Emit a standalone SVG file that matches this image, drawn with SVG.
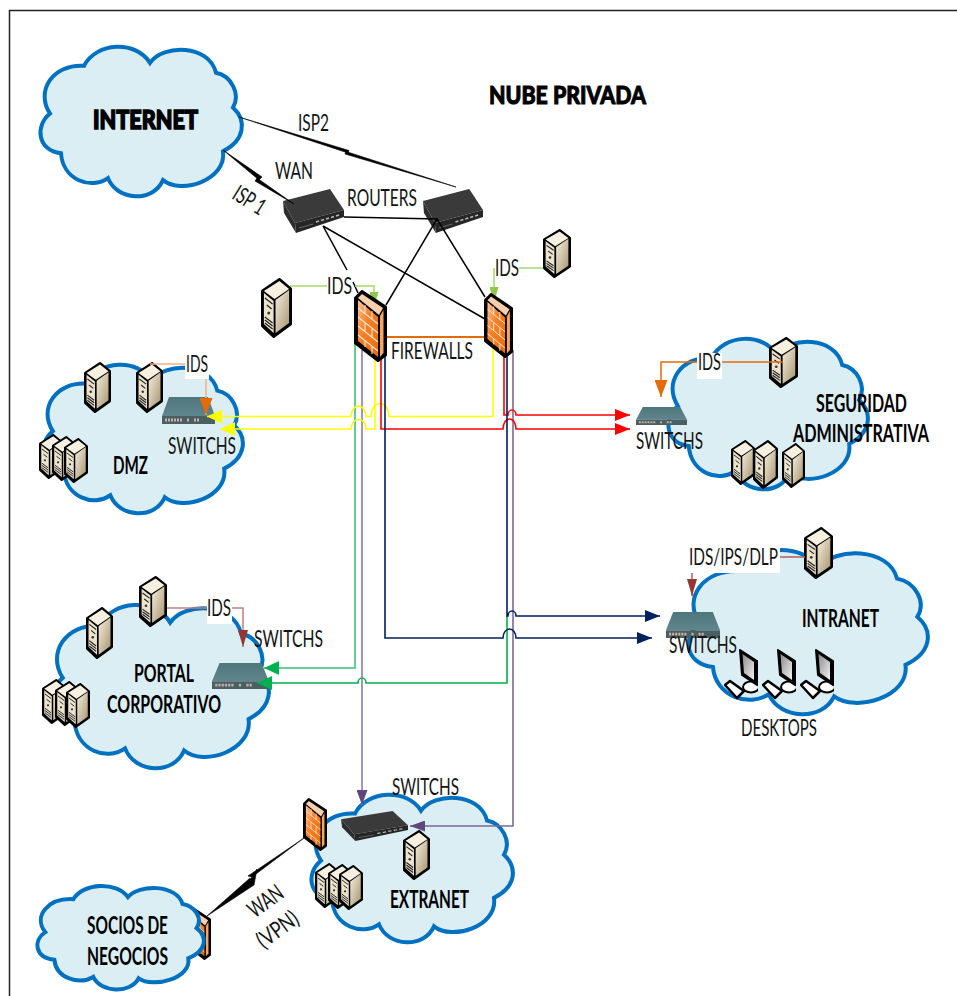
<svg xmlns="http://www.w3.org/2000/svg" width="957" height="996" viewBox="0 0 957 996">
<style>
text{font-family:Lato,"Liberation Sans",sans-serif;font-size:23px;fill:#141414}
.b{font-weight:700;font-size:24px;fill:#000}
.h{font-weight:900;fill:#000;stroke:#000;stroke-width:1}
.c{fill:#daeef3;stroke:#0070c0;stroke-width:4;vector-effect:non-scaling-stroke}
.w{fill:#fff}
.l{fill:none;stroke-width:1.6;stroke-linejoin:miter}
.k{fill:none;stroke:#000;stroke-width:1.5}
.z{fill:#000;stroke:#000;stroke-width:.6}
</style>
<defs>
<linearGradient id="gs" x1="0" x2="1" y1="0" y2="1"><stop offset="0" stop-color="#f5efdf"/><stop offset="1" stop-color="#a8946f"/></linearGradient>
<linearGradient id="gf" x1="0" x2="1" y1="0" y2="1"><stop offset="0" stop-color="#fbc49a"/><stop offset=".4" stop-color="#f58228"/><stop offset="1" stop-color="#e66c0a"/></linearGradient>
<linearGradient id="gt" x1="0" x2="0" y1="0" y2="1"><stop offset="0" stop-color="#4e767c"/><stop offset="1" stop-color="#5f868c"/></linearGradient>
<linearGradient id="gm" x1="0" x2="1" y1="0" y2="1"><stop offset="0" stop-color="#8c8c8c"/><stop offset="1" stop-color="#f2f2f2"/></linearGradient>
<symbol id="cloud" viewBox="-1 -2 202 154" preserveAspectRatio="none" overflow="visible">
<path class="c" d="M43 20C55-4 95-6 109 17C122-2 168-2 175 27C190 30 200 48 192 62C206 75 204 95 182 106C186 135 140 150 122 135C112 158 76 156 67 133C50 145 22 135 20 108C-4 105-6 80 9 68C-6 45 12 18 43 20Z"/>
</symbol>
<symbol id="server" viewBox="0 0 32 60" preserveAspectRatio="none">
<polygon points="1.500,13 19,1.500 30.500,11 30.500,46 13,58.500 1.500,48" fill="#000" stroke="#000" stroke-width="3" stroke-linejoin="round"/>
<polygon points="3,13 19,3 29,11 14,21" fill="#f6f0e1"/>
<polygon points="3,15 13,23 13,55 3,46" fill="#ece3cd"/>
<polygon points="15,22 29,12 29,45 15,55" fill="url(#gs)"/>
<path d="M4 20l8 6M6 27l5 4M4 39l8 6M4 42l8 6M4 45l8 6" stroke="#222" stroke-width="1.300" fill="none"/>
<circle cx="8" cy="35" r="1.500" fill="#333"/>
</symbol>
<symbol id="router" viewBox="0 0 61 44" preserveAspectRatio="none">
<polygon points="0,12 47,0 61,21 12,34" fill="#3a3a3a"/>
<polygon points="12,34 61,21 61,28 13,44" fill="#262626"/>
<polygon points="0,12 12,34 13,44 1,24" fill="#2e2e2e"/>
<path d="M33 33l3-1M38 31.500l3-1M43 30l3-1M48 28.500l3-1M53 27l3-1" stroke="#b5b5b5" stroke-width="1.800"/>
<path d="M16 39l14-4" stroke="#666" stroke-width="1"/>
</symbol>
<symbol id="switch" viewBox="0 0 53 27" preserveAspectRatio="none">
<polygon points="7,0 46,0 53,19 0,19" fill="url(#gt)"/>
<rect x="0" y="19" width="53" height="8" fill="#4a5f63"/>
<path d="M3 23h18M25 23h3M32 23h6" stroke="#c8b0a0" stroke-width="3" stroke-dasharray="2 1"/>
</symbol>
<symbol id="firewall" viewBox="0 0 33 72" preserveAspectRatio="none">
<polygon points="1.500,8 8,1.500 31.500,17 31.500,65 24,70.500 1.500,53" fill="#000" stroke="#000" stroke-width="3" stroke-linejoin="round"/>
<polygon points="4,10 24,27 24,67 4,51" fill="url(#gf)"/>
<polygon points="4,8 8,4 29,18 25,25" fill="#f9cfae"/>
<polygon points="26,26 29.500,20 29.500,63 26,67" fill="#f9a75f"/>
<path d="M4 18l20 16M4 27l20 16M4 36l20 16M4 45l20 16M11 15v9M18 21v9M11 33v9M18 39v9M11 50v7M18 57v7" stroke="#fbe4d0" stroke-width="1.100" fill="none"/>
</symbol>
<symbol id="desktop" viewBox="0 0 34 52">
<ellipse cx="27" cy="39" rx="8" ry="5.500" fill="#fff" stroke="#000" stroke-width="2"/>
<polygon points="16,2 33,13 33,37 18,27" fill="#000" stroke="#000" stroke-width="2" stroke-linejoin="round"/>
<polygon points="18.500,6 30,14 30,32 20,25" fill="url(#gm)"/>
<polygon points="1,37 6,33 20,43 13,50" fill="#fff" stroke="#000" stroke-width="2.500" stroke-linejoin="round"/>
</symbol>
<marker id="my" markerUnits="userSpaceOnUse" viewBox="0 0 15 14" refX="15" refY="7" markerWidth="15" markerHeight="14" orient="auto"><path d="M0 0L15 7L0 14Z" fill="#ff0"/></marker>
<marker id="mr" markerUnits="userSpaceOnUse" viewBox="0 0 15 12" refX="15" refY="6" markerWidth="15" markerHeight="12" orient="auto"><path d="M0 0L15 6L0 12Z" fill="#f00"/></marker>
<marker id="mn" markerUnits="userSpaceOnUse" viewBox="0 0 15 12" refX="15" refY="6" markerWidth="15" markerHeight="12" orient="auto"><path d="M0 0L15 6L0 12Z" fill="#002060"/></marker>
<marker id="mg" markerUnits="userSpaceOnUse" viewBox="0 0 15 14" refX="15" refY="7" markerWidth="15" markerHeight="14" orient="auto"><path d="M0 0L15 7L0 14Z" fill="#00b050"/></marker>
<marker id="mp" markerUnits="userSpaceOnUse" viewBox="0 0 15 11" refX="15" refY="5.500" markerWidth="15" markerHeight="11" orient="auto"><path d="M0 0L15 5.500L0 11Z" fill="#5f497a"/></marker>
<marker id="ml" markerUnits="userSpaceOnUse" viewBox="0 0 15 9" refX="15" refY="4.500" markerWidth="15" markerHeight="9" orient="auto"><path d="M0 0L15 4.500L0 9Z" fill="#8cc84b"/></marker>
<marker id="mo" markerUnits="userSpaceOnUse" viewBox="0 0 17 13" refX="17" refY="6.500" markerWidth="17" markerHeight="13" orient="auto"><path d="M0 0L17 6.500L0 13Z" fill="#e36c09"/></marker>
<marker id="mb" markerUnits="userSpaceOnUse" viewBox="0 0 17 10" refX="17" refY="5" markerWidth="17" markerHeight="10" orient="auto"><path d="M0 0L17 5L0 10Z" fill="#953735"/></marker>
</defs>

<g id="frame"><path d="M9.500 996V10.500H957" fill="none" stroke="#222" stroke-width="1.500"/></g>
<g id="title"><text class="h" x="489" y="104" style="font-size:25px" textLength="157" lengthAdjust="spacingAndGlyphs">NUBE PRIVADA</text></g>

<g id="node-internet"><use href="#cloud" x="40" y="44" width="202" height="153"/><text class="h" x="93" y="129" style="font-size:27px;stroke-width:1.600" textLength="105" lengthAdjust="spacingAndGlyphs">INTERNET</text></g>

<g id="node-dmz"><use href="#cloud" x="43" y="362" width="200" height="152"/>
<use href="#server" x="84" y="362" width="27" height="51"/><use href="#server" x="136" y="362" width="27" height="51"/>
<use href="#server" x="39" y="434" width="24" height="45"/><use href="#server" x="52" y="436" width="24" height="45"/><use href="#server" x="64" y="438" width="24" height="45"/>
<use href="#switch" x="162" y="397" width="53" height="27"/>
<text x="168" y="454" textLength="68" lengthAdjust="spacingAndGlyphs">SWITCHS</text>
<text class="b" x="113" y="474" textLength="35" lengthAdjust="spacingAndGlyphs">DMZ</text></g>

<g id="node-seguridad"><use href="#cloud" x="668" y="336" width="200" height="154"/>
<use href="#server" x="769" y="337" width="29" height="51"/>
<use href="#server" x="731" y="440" width="24" height="45"/><use href="#server" x="753" y="440" width="25" height="49"/><use href="#server" x="782" y="443" width="23" height="45"/>
<use href="#switch" x="636" y="407" width="51" height="18"/>
<text x="636" y="449" textLength="67" lengthAdjust="spacingAndGlyphs">SWITCHS</text>
<text class="b" x="816" y="412" textLength="91" lengthAdjust="spacingAndGlyphs">SEGURIDAD</text>
<text class="b" x="793" y="442" textLength="136" lengthAdjust="spacingAndGlyphs">ADMINISTRATIVA</text></g>

<g id="node-intranet"><use href="#cloud" x="688" y="547" width="240" height="168"/>
<use href="#server" x="804" y="527" width="29" height="52"/>
<use href="#switch" x="666" y="612" width="54" height="26"/>
<text x="669" y="653" textLength="68" lengthAdjust="spacingAndGlyphs">SWITCHS</text>
<text class="b" x="802" y="627" textLength="77" lengthAdjust="spacingAndGlyphs">INTRANET</text>
<use href="#desktop" x="724" y="648" width="34" height="52"/><use href="#desktop" x="762" y="648" width="34" height="52"/><use href="#desktop" x="800" y="648" width="34" height="52"/>
<text x="741" y="736" textLength="76" lengthAdjust="spacingAndGlyphs">DESKTOPS</text></g>

<g id="node-portal"><use href="#cloud" x="52" y="602" width="217" height="167"/>
<use href="#server" x="139" y="576" width="28" height="51"/><use href="#server" x="86" y="607" width="27" height="52"/>
<use href="#server" x="42" y="679" width="24" height="45"/><use href="#server" x="55" y="681" width="24" height="45"/><use href="#server" x="66" y="683" width="24" height="45"/>
<use href="#switch" x="212" y="663" width="57" height="26"/>
<text x="254" y="647" textLength="69" lengthAdjust="spacingAndGlyphs">SWITCHS</text>
<text class="b" x="134" y="682" textLength="60" lengthAdjust="spacingAndGlyphs">PORTAL</text>
<text class="b" x="107" y="713" textLength="114" lengthAdjust="spacingAndGlyphs">CORPORATIVO</text></g>

<g id="node-extranet"><use href="#cloud" x="311" y="792" width="202" height="151"/>
<use href="#router" x="341" y="811" width="67" height="30"/>
<use href="#server" x="403" y="830" width="27" height="50"/>
<use href="#server" x="315" y="863" width="24" height="45"/><use href="#server" x="328" y="864" width="24" height="45"/><use href="#server" x="339" y="865" width="24" height="45"/>
<text x="392" y="795" textLength="67" lengthAdjust="spacingAndGlyphs">SWITCHS</text>
<text class="b" x="390" y="908" textLength="79" lengthAdjust="spacingAndGlyphs">EXTRANET</text></g>

<g id="node-firewall-socios"><use href="#firewall" x="187" y="907" width="24" height="53"/></g>
<g id="node-socios"><use href="#cloud" x="37" y="884" width="167" height="106"/>
<text class="b" x="87" y="934" textLength="81" lengthAdjust="spacingAndGlyphs">SOCIOS DE</text>
<text class="b" x="87" y="965" textLength="81" lengthAdjust="spacingAndGlyphs">NEGOCIOS</text></g>

<g id="node-router-1"><use href="#router" x="283" y="189" width="61" height="44"/></g>
<g id="node-router-2"><use href="#router" x="423" y="189" width="60" height="44"/></g>

<g id="connectors">
<polygon class="z" points="239,117 349,150.500 348,153"/>
<polygon class="z" points="456,187 346,151.500 345,154"/>
<polygon class="z" points="223,150 262,177 259,180"/>
<polygon class="z" points="294,204 257,178 255,181"/>
<polygon class="z" points="304,838 248,876 252,877"/>
<polygon class="z" points="207,916 250,878 254,885"/>
<polygon class="z" points="257,869 250,880 254,885"/>
<path class="k" d="M344 217L437 219L386 305M437 219L485 297M323 226L485 319M323 226L347 270M353 282L358 293"/>
<path d="M386 337H484" fill="none" stroke="#e36c09" stroke-width="2.200"/>

<path class="l" stroke="#3fbf7a" d="M355 340V668H264" marker-end="url(#mg)"/>
<path class="l" stroke="#00b050" d="M507 616V683H366A4 5 0 0 0 358 683H257" marker-end="url(#mg)"/>
<path class="l" stroke="#8c7ea0" d="M362 350V805" marker-end="url(#mp)"/>
<path class="l" stroke="#7c6a96" d="M513 350V826H410" marker-end="url(#mp)"/>
<path class="l" stroke="#ff0" d="M493 345V416.500H389A9 13 0 0 0 371 416.500H366A7.500 10.500 0 0 0 351 416.500H207" marker-end="url(#my)"/>
<path class="l" stroke="#ff0" d="M375 355V429H366A7.500 9.500 0 0 0 351 429H220" marker-end="url(#my)"/>
<path class="l" stroke="#f00" d="M504 350V415H508A4 5 0 0 1 516 415H630" marker-end="url(#mr)"/>
<path class="l" stroke="#f00" d="M381 355V429H503A6.500 10 0 0 1 516 429H630" marker-end="url(#mr)"/>
<path class="l" stroke="#002060" d="M385 355V638H503A6.500 9 0 0 1 516 638H652" marker-end="url(#mn)"/>
<path class="l" stroke="#002060" d="M507 350V616H508A4 5 0 0 1 516 616H660" marker-end="url(#mn)"/>

<path d="M290 286H327M355 286H374V307" fill="none" stroke="#a6d96a" stroke-width="1.500" marker-end="url(#ml)"/>
<path d="M543 268H519M494 268V302" fill="none" stroke="#a6d96a" stroke-width="1.500" marker-end="url(#ml)"/>
<path d="M150 364H185M206 379V415" fill="none" stroke="#f4b183" stroke-width="1.500" marker-end="url(#mo)"/>
<path d="M783 362H721M697 362H661V397" fill="none" stroke="#e36c09" stroke-width="1.500" marker-end="url(#mo)"/>
<path d="M805 557H778M692 573V596" fill="none" stroke="#b0605c" stroke-width="1.500" marker-end="url(#mb)"/>
<path d="M167 608H207M231 608H243V647" fill="none" stroke="#c0807c" stroke-width="1.500" marker-end="url(#mb)"/>
</g>

<g id="node-firewall-1"><use href="#firewall" x="354" y="290" width="33" height="72"/></g>
<g id="node-firewall-2"><use href="#firewall" x="484" y="293" width="29" height="65"/></g>
<g id="node-firewall-extranet"><use href="#firewall" x="303" y="798" width="24" height="53"/></g>
<g id="node-ids-server-1"><use href="#server" x="261" y="278" width="31" height="60"/></g>
<g id="node-ids-server-2"><use href="#server" x="543" y="229" width="28" height="49"/></g>

<g id="labels">
<text x="298" y="131" textLength="31" lengthAdjust="spacingAndGlyphs">ISP2</text>
<text x="275" y="179" textLength="38" lengthAdjust="spacingAndGlyphs">WAN</text>
<text transform="translate(249 201) rotate(32)" x="-17" y="7" textLength="34" lengthAdjust="spacingAndGlyphs">ISP 1</text>
<text x="347" y="206" textLength="70" lengthAdjust="spacingAndGlyphs">ROUTERS</text>
<text x="327" y="294" textLength="25" lengthAdjust="spacingAndGlyphs">IDS</text>
<text x="495" y="276" textLength="24" lengthAdjust="spacingAndGlyphs">IDS</text>
<text x="391" y="359" textLength="82" lengthAdjust="spacingAndGlyphs">FIREWALLS</text>
<rect class="w" x="185" y="355" width="24" height="24"/><text x="186" y="372" textLength="22" lengthAdjust="spacingAndGlyphs">IDS</text>
<rect class="w" x="697" y="353" width="25" height="26"/><text x="698" y="370" textLength="23" lengthAdjust="spacingAndGlyphs">IDS</text>
<rect class="w" x="688" y="546" width="92" height="27"/><text x="689" y="565" textLength="89" lengthAdjust="spacingAndGlyphs">IDS/IPS/DLP</text>
<rect class="w" x="207" y="597" width="25" height="27"/><text x="207" y="616" textLength="24" lengthAdjust="spacingAndGlyphs">IDS</text>
<text transform="translate(266 902) rotate(-36)" x="-19" y="7" textLength="38" lengthAdjust="spacingAndGlyphs">WAN</text>
<text transform="translate(278 930) rotate(-36)" x="-23" y="7" textLength="46" lengthAdjust="spacingAndGlyphs">(VPN)</text>
</g>
</svg>
